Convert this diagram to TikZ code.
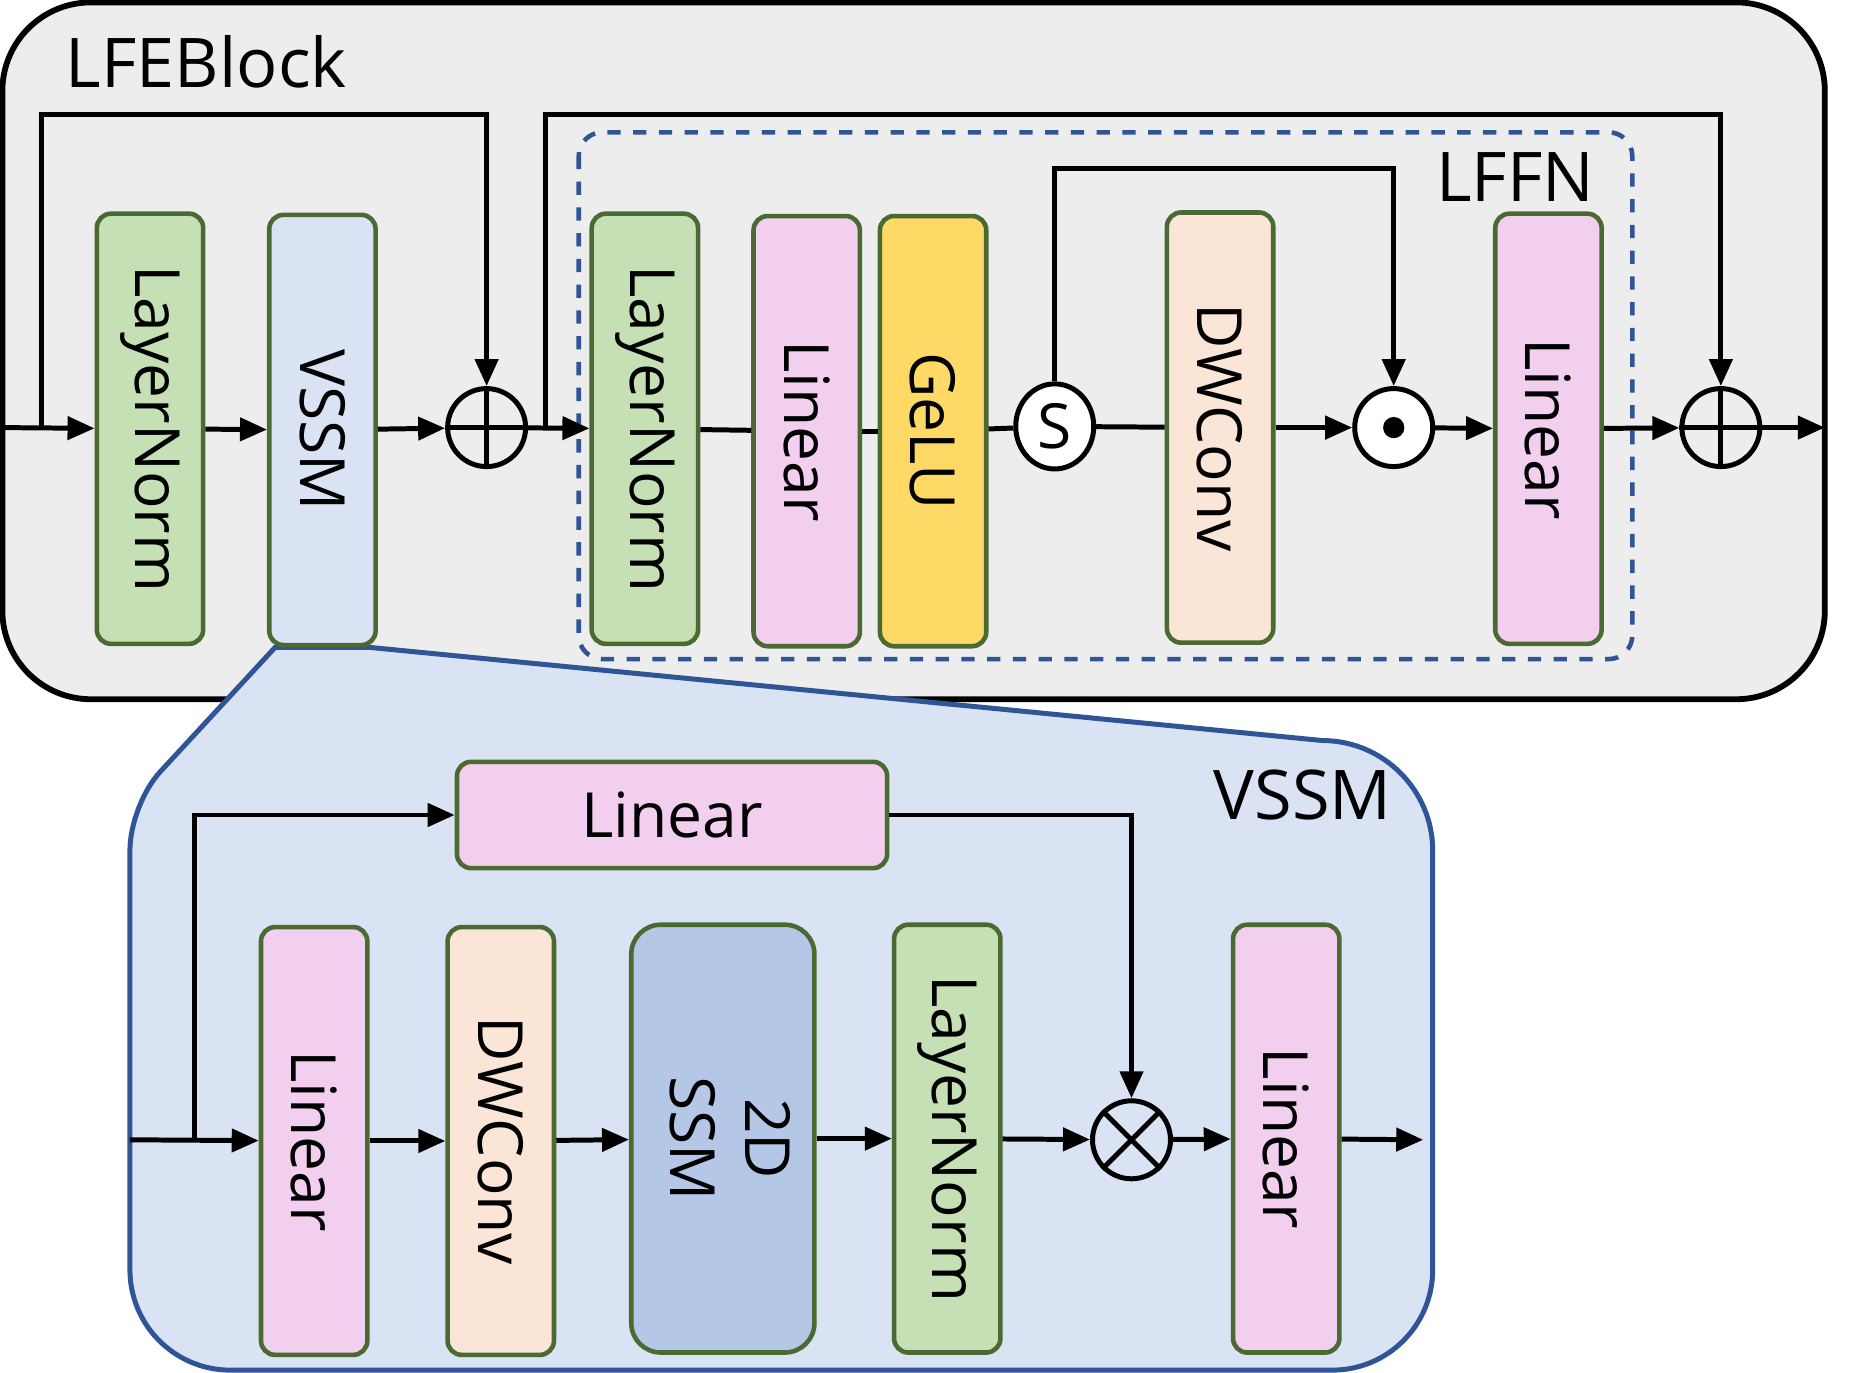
\documentclass[tikz,border=0pt]{standalone}
\usepackage{fontspec}
\setmainfont{Open Sans}
\usepackage{graphicx}
\usepackage{tikz}
\usetikzlibrary{arrows.meta,positioning,shapes.geometric}
\definecolor{panelgrey}{HTML}{EDEDED}
\definecolor{edgegreen}{HTML}{4A6A32}
\definecolor{normgreen}{HTML}{C5E0B4}
\definecolor{ssmlight}{HTML}{DAE3F3}
\definecolor{ssmdark}{HTML}{B4C7E7}
\definecolor{linpink}{HTML}{F2CEEF}
\definecolor{geluyellow}{HTML}{FFD966}
\definecolor{convpeach}{HTML}{FBE5D6}
\definecolor{blueedge}{HTML}{2F5597}
\newcommand{\vlabel}[1]{\rotatebox{-90}{#1}}
\newcommand{\boxfont}{\fontsize{15}{18}\selectfont}
\newcommand{\titlefont}{\fontsize{16.5}{20}\selectfont}

\begin{document}
\begin{tikzpicture}[x=0.01cm,y=-0.01cm,line width=1.2pt,
  blk/.style={rectangle,rounded corners=0.12cm,draw=edgegreen,line width=1.1pt,minimum width=0.9cm,minimum height=3.64cm,inner sep=0pt,font=\boxfont},
  arrow/.style={-{Triangle[length=6.5pt,width=5.5pt]}},
  op/.style={circle,draw,line width=1.2pt,minimum size=0.66cm,inner sep=0pt},
  title/.style={font=\titlefont}
]
\useasboundingbox (0,0) rectangle (1568,1162);
% LFEBlock frame
\draw[fill=panelgrey,line width=1.4pt,rounded corners=0.75cm] (2,2) rectangle (1545,592);
\draw[blueedge,line width=1.1pt,dash pattern=on 3.2pt off 3pt,rounded corners=0.2cm] (490,112) rectangle (1382,558);
% VSSM zoom panel
\draw[blueedge,fill=ssmlight,line width=1.2pt] (233,548) -- (312,548) -- (1120,627)
  .. controls (1171,627) and (1213,669) .. (1213,720) -- (1213,1075)
  .. controls (1213,1122) and (1175,1160) .. (1128,1160) -- (195,1160)
  .. controls (148,1160) and (110,1122) .. (110,1075) -- (110,720)
  .. controls (110,698) and (121,669) .. (136,653) -- cycle;
\node[title,anchor=west] (lfetitle) at (42,52) {LFEBlock};
\node[title] (lffntitle) at (1283,150) {LFFN};
\node[title] (vssmtitle) at (1103,673) {VSSM};

% top row
\node[blk,fill=normgreen] (ln1) at (127,363) {\vlabel{LayerNorm}};
\node[blk,fill=ssmlight] (vssm) at (273,364) {\vlabel{VSSM}};
\node[op] (add1) at (412,362) {};
\node[blk,fill=normgreen] (ln2) at (546,363) {\vlabel{LayerNorm}};
\node[blk,fill=linpink] (lin1) at (683,365) {\vlabel{Linear}};
\node[blk,fill=geluyellow] (gelu) at (790,365) {\vlabel{GeLU}};
\node[ellipse,draw,fill=white,line width=1.2pt,minimum width=0.66cm,minimum height=0.72cm,inner sep=0pt,font=\boxfont] (sg) at (893,361) {S};
\node[blk,fill=convpeach] (dw1) at (1033,362) {\vlabel{DWConv}};
\node[op,fill=white] (mul) at (1180,362) {};
\node[blk,fill=linpink] (lin2) at (1311,363) {\vlabel{Linear}};
\node[op] (add2) at (1457,362) {};
\draw (add1.north) -- (add1.south) (add1.west) -- (add1.east);
\draw (add2.north) -- (add2.south) (add2.west) -- (add2.east);
\fill (mul) circle[radius=0.09cm];

\coordinate (in1) at (0,362);
\coordinate (br1) at (35,362);
\coordinate (skip1) at (412,97);
\coordinate (br2) at (462,362);
\coordinate (skip2) at (1457,97);
\coordinate (gate) at (1180,143);
\coordinate (out1) at (1545,362);
\draw[arrow] (in1) -- (ln1);
\draw[arrow] (br1) |- (skip1) -- (add1);
\draw[arrow] (ln1) -- (vssm);
\draw[arrow] (vssm) -- (add1);
\draw[arrow] (add1) -- (ln2);
\draw[arrow] (br2) |- (skip2) -- (add2);
\draw (ln2) -- (lin1);
\draw (lin1) -- (gelu);
\draw (gelu) -- (sg);
\draw (sg) -- (dw1);
\draw[arrow] (sg) |- (gate) -- (mul);
\draw[arrow] (dw1) -- (mul);
\draw[arrow] (mul) -- (lin2);
\draw[arrow] (lin2) -- (add2);
\draw[arrow] (add2) -- (out1);

% VSSM row
\node[blk,fill=linpink,minimum width=3.64cm,minimum height=0.9cm] (linx) at (569,690) {Linear};
\node[blk,fill=linpink,minimum height=3.62cm] (lin3) at (266,966) {\vlabel{Linear}};
\node[blk,fill=convpeach,minimum height=3.62cm] (dw2) at (424,966) {\vlabel{DWConv}};
\node[blk,fill=ssmdark,minimum width=1.55cm,minimum height=3.62cm,rounded corners=0.25cm] (ssm) at (612,964) {\vlabel{\begin{tabular}{@{}c@{}}2D\\SSM\end{tabular}}};
\node[blk,fill=normgreen,minimum height=3.62cm] (ln3) at (802,964) {\vlabel{LayerNorm}};
\node[op] (prod) at (958,965) {};
\node[blk,fill=linpink,minimum height=3.62cm] (lin4) at (1089,964) {\vlabel{Linear}};
\draw (prod.north west) -- (prod.south east) (prod.north east) -- (prod.south west);

\coordinate (in2) at (110,965);
\coordinate (br3) at (165,965);
\coordinate (out2) at (1205,965);
\draw[arrow] (in2) -- (lin3);
\draw[arrow] (br3) |- (linx);
\draw[arrow] (linx) -| (prod);
\draw[arrow] (lin3) -- (dw2);
\draw[arrow] (dw2) -- (ssm);
\draw[arrow] (ssm) -- (ln3);
\draw[arrow] (ln3) -- (prod);
\draw[arrow] (prod) -- (lin4);
\draw[arrow] (lin4) -- (out2);
\end{tikzpicture}
\end{document}
